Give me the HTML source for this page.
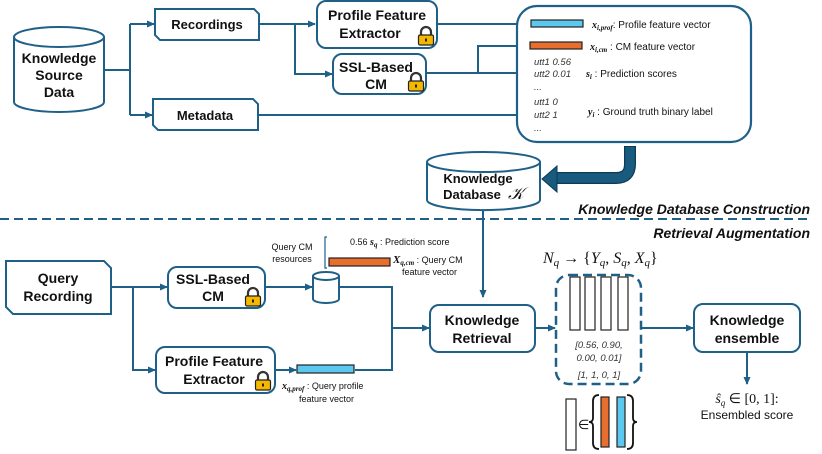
<!DOCTYPE html>
<html><head><meta charset="utf-8"><style>
html,body{margin:0;padding:0;background:#fff;}
svg{display:block;}
text{font-family:"Liberation Sans",sans-serif;fill:#111;}
.b{font-weight:bold;font-size:14px;text-anchor:middle;}
.s{font-size:10px;}
.i{font-style:italic;font-size:9.5px;fill:#333;}
.mm{font-family:"Liberation Serif",serif;font-style:italic;font-weight:bold;}
</style></head><body>
<svg width="822" height="454" viewBox="0 0 822 454" xmlns="http://www.w3.org/2000/svg">
<defs>
<marker id="a" markerWidth="8" markerHeight="8" refX="7" refY="4" orient="auto" markerUnits="userSpaceOnUse">
<path d="M0,0.5 L8,4 L0,7.5 Z" fill="#1f6088"/></marker>
<g id="lock">
<path d="M3,8 V5 A5,5 0 0 1 13,5 V8" fill="none" stroke="#333" stroke-width="2.2"/>
<rect x="0.5" y="8" width="15" height="10" rx="1.5" fill="#f5b800" stroke="#222" stroke-width="1.2"/>
<rect x="7" y="11.5" width="2" height="3" fill="#222"/>
</g>
</defs>
<g stroke="#1f6088" stroke-width="2" fill="none">
<path d="M14,37 V102 A45,10 0 0 0 104,102 V37" fill="#fff"/>
<ellipse cx="59" cy="37" rx="45" ry="10" fill="#fff"/>
<path d="M104,70 H130 M130,24 V115"/>
<path d="M130,24 H154" marker-end="url(#a)"/>
<path d="M130,115 H152" marker-end="url(#a)"/>
<path d="M155,9 H254 L259,14 V40 H160 L155,35 Z" fill="#fff"/>
<path d="M153,99 H253 L258,104 V130 H158 L153,125 Z" fill="#fff"/>
<path d="M259,24 H315" marker-end="url(#a)"/>
<path d="M295,24 V74 H332" marker-end="url(#a)"/>
<rect x="317" y="1" width="120" height="47" rx="9" fill="#fff"/>
<rect x="333" y="54" width="93" height="40" rx="9" fill="#fff"/>
<path d="M437,24 H529" marker-end="url(#a)"/>
<path d="M426,73 H527" marker-end="url(#a)"/>
<path d="M478,73 V46 H528" marker-end="url(#a)"/>
<path d="M258,115 H527" marker-end="url(#a)"/>
<rect x="517" y="6" width="234" height="136" rx="20" fill="#fff" stroke-width="2.2"/>
<path d="M427,162 V200 A56,10 0 0 0 540,200 V162" fill="#fff"/>
<ellipse cx="483.5" cy="162" rx="56.5" ry="10" fill="#fff"/>
<path d="M483,210 V297" marker-end="url(#a)"/>
<path d="M0,219 H812" stroke-dasharray="9,5"/>
<path d="M6,261 H104 L111,268 V314 H13 L6,307 Z" fill="#fff"/>
<path d="M111,287 H167" marker-end="url(#a)"/>
<path d="M133,287 V370 H155" marker-end="url(#a)"/>
<rect x="168" y="267" width="97" height="41" rx="9" fill="#fff"/>
<rect x="156" y="347" width="119" height="46" rx="9" fill="#fff"/>
<path d="M265,287 H312" marker-end="url(#a)"/>
<path d="M313,276 V299 A13,4 0 0 0 339,299 V276" fill="#fff"/>
<ellipse cx="326" cy="276" rx="13" ry="4" fill="#fff"/>
<path d="M339,287 H392 V370 H355"/>
<path d="M392,328 H429" marker-end="url(#a)"/>
<path d="M275,370 H296" marker-end="url(#a)"/>
<rect x="430" y="305" width="105" height="47" rx="9" fill="#fff"/>
<path d="M535,328 H555" marker-end="url(#a)"/>
<rect x="556" y="275" width="85" height="109" rx="13" stroke-dasharray="9,5" stroke-width="2.5"/>
<path d="M641,328 H693" marker-end="url(#a)"/>
<rect x="694" y="304" width="106" height="48" rx="9" fill="#fff"/>
<path d="M747,352 V384" marker-end="url(#a)"/>
</g>
<path d="M630,146 V164 Q630,178 616,178 H554" fill="none" stroke="#0d3a55" stroke-width="12"/>
<path d="M630,147 V164 Q630,178 616,178 H554" fill="none" stroke="#185b7e" stroke-width="9.5"/>
<path d="M557,166 L542,179 L557,192 Z" fill="#185b7e" stroke="#0d3a55" stroke-width="1"/>
<rect x="531" y="20" width="52" height="7" fill="#5bc8f0" stroke="#222" stroke-width="1.2"/>
<rect x="530" y="42" width="52" height="7" fill="#e86e2e" stroke="#222" stroke-width="1.2"/>
<rect x="297" y="365" width="57" height="8" fill="#5bc8f0" stroke="#222" stroke-width="1.2"/>
<rect x="329" y="258" width="61" height="8" fill="#e86e2e" stroke="#222" stroke-width="1.2"/>
<g fill="#fff" stroke="#222" stroke-width="1.2">
<rect x="570" y="277" width="10" height="53"/><rect x="585" y="277" width="10" height="53"/>
<rect x="601" y="277" width="10" height="53"/><rect x="618" y="277" width="10" height="53"/>
<rect x="566" y="399" width="10" height="51"/>
<rect x="601" y="397" width="8" height="50" fill="#e86e2e"/>
<rect x="617" y="397" width="8" height="50" fill="#5bc8f0"/>
</g>
<g fill="none" stroke="#111" stroke-width="1.8">
<path d="M599,395 Q593,395 593,401 V418 Q593,422 589,422 Q593,422 593,426 V443 Q593,449 599,449"/>
<path d="M627,395 Q633,395 633,401 V418 Q633,422 637,422 Q633,422 633,426 V443 Q633,449 627,449"/>
</g>
<path d="M327,237 H325 V268 H327" fill="none" stroke="#1f6088" stroke-width="1.2"/>
<use href="#lock" x="418" y="27"/>
<use href="#lock" x="408" y="73"/>
<use href="#lock" x="245" y="288"/>
<use href="#lock" x="255" y="372"/>
<text class="b" x="59" y="63">Knowledge</text>
<text class="b" x="59" y="80">Source</text>
<text class="b" x="59" y="97">Data</text>
<text class="b" x="207" y="29" style="font-size:13px">Recordings</text>
<text class="b" x="205" y="120" style="font-size:13px">Metadata</text>
<text class="b" x="377" y="20">Profile Feature</text>
<text class="b" x="370" y="38">Extractor</text>
<text class="b" x="376" y="72">SSL-Based</text>
<text class="b" x="376" y="89">CM</text>
<text x="592" y="28" class="s"><tspan class="mm" font-size="10">x</tspan><tspan class="mm" font-size="7" dy="2">i,prof</tspan><tspan dy="-2">: Profile feature vector</tspan></text>
<text x="590" y="50" class="s"><tspan class="mm" font-size="10">x</tspan><tspan class="mm" font-size="7" dy="2">i,cm</tspan><tspan dy="-2"> : CM feature vector</tspan></text>
<text class="i" x="534" y="65">utt1 0.56</text>
<text class="i" x="534" y="77">utt2 0.01</text>
<text class="i" x="534" y="90">...</text>
<text class="i" x="534" y="105">utt1 0</text>
<text class="i" x="534" y="118">utt2 1</text>
<text class="i" x="534" y="131">...</text>
<text x="586" y="77" class="s"><tspan class="mm" font-size="10">s</tspan><tspan class="mm" font-size="7" dy="2">i</tspan><tspan dy="-2"> : Prediction scores</tspan></text>
<text x="588" y="115" class="s"><tspan class="mm" font-size="10">y</tspan><tspan class="mm" font-size="7" dy="2">i</tspan><tspan dy="-2"> : Ground truth binary label</tspan></text>
<text class="b" x="478" y="183" style="font-size:13px">Knowledge</text>
<text class="b" x="472" y="199" style="font-size:13px">Database</text>
<text x="508" y="199" style="font-family:'Liberation Serif',serif;font-style:italic;font-size:17px">𝒦</text>
<text x="810" y="214" style="font-weight:bold;font-style:italic;font-size:14px;text-anchor:end">Knowledge Database Construction</text>
<text x="810" y="238" style="font-weight:bold;font-style:italic;font-size:14px;text-anchor:end">Retrieval Augmentation</text>
<text class="b" x="58" y="283">Query</text>
<text class="b" x="58" y="301">Recording</text>
<text class="b" x="213" y="284">SSL-Based</text>
<text class="b" x="213" y="301">CM</text>
<text class="b" x="214" y="366">Profile Feature</text>
<text class="b" x="214" y="384">Extractor</text>
<text class="s" x="292" y="250" text-anchor="middle" style="font-size:9px">Query CM</text>
<text class="s" x="292" y="262" text-anchor="middle" style="font-size:9px">resources</text>
<text x="350" y="245" class="s" style="font-size:9px">0.56  <tspan class="mm" font-size="10">s</tspan><tspan class="mm" font-size="7" dy="2">q</tspan><tspan dy="-2"> : Prediction score</tspan></text>
<text x="393" y="263" class="s" style="font-size:9px"><tspan class="mm" font-size="11">X</tspan><tspan class="mm" font-size="7" dy="2">q,cm</tspan><tspan dy="-2"> : Query CM</tspan></text>
<text class="s" x="402" y="275" style="font-size:9px">feature vector</text>
<text x="282" y="389" class="s" style="font-size:9px"><tspan class="mm" font-size="10">x</tspan><tspan class="mm" font-size="7" dy="2">q,prof</tspan><tspan dy="-2"> : Query profile</tspan></text>
<text class="s" x="299" y="402" style="font-size:9px">feature vector</text>
<text class="b" x="482" y="325">Knowledge</text>
<text class="b" x="482" y="343">Retrieval</text>
<text class="b" x="747" y="325">Knowledge</text>
<text class="b" x="747" y="343">ensemble</text>
<text x="543" y="263" style="font-family:'Liberation Serif',serif;font-style:italic;font-size:16px">N<tspan font-size="11" dy="3">q</tspan><tspan dy="-3" font-style="normal">   → {</tspan>Y<tspan font-size="11" dy="3">q</tspan><tspan dy="-3" font-style="normal">, </tspan>S<tspan font-size="11" dy="3">q</tspan><tspan dy="-3" font-style="normal">, </tspan>X<tspan font-size="11" dy="3">q</tspan><tspan dy="-3" font-style="normal">}</tspan></text>
<text class="i" x="599" y="348" text-anchor="middle">[0.56, 0.90,</text>
<text class="i" x="599" y="361" text-anchor="middle">0.00, 0.01]</text>
<text class="i" x="599" y="378" text-anchor="middle">[1, 1, 0, 1]</text>
<text x="747" y="403" text-anchor="middle" style="font-family:'Liberation Serif',serif;font-size:14px"><tspan font-style="italic">ŝ</tspan><tspan font-size="9" dy="3" font-style="italic">q</tspan><tspan dy="-3"> ∈ [0, 1]:</tspan></text>
<text x="747" y="419" text-anchor="middle" style="font-size:12px">Ensembled score</text>
<text x="578" y="429" style="font-size:13px">∈</text>
</svg>
</body></html>
